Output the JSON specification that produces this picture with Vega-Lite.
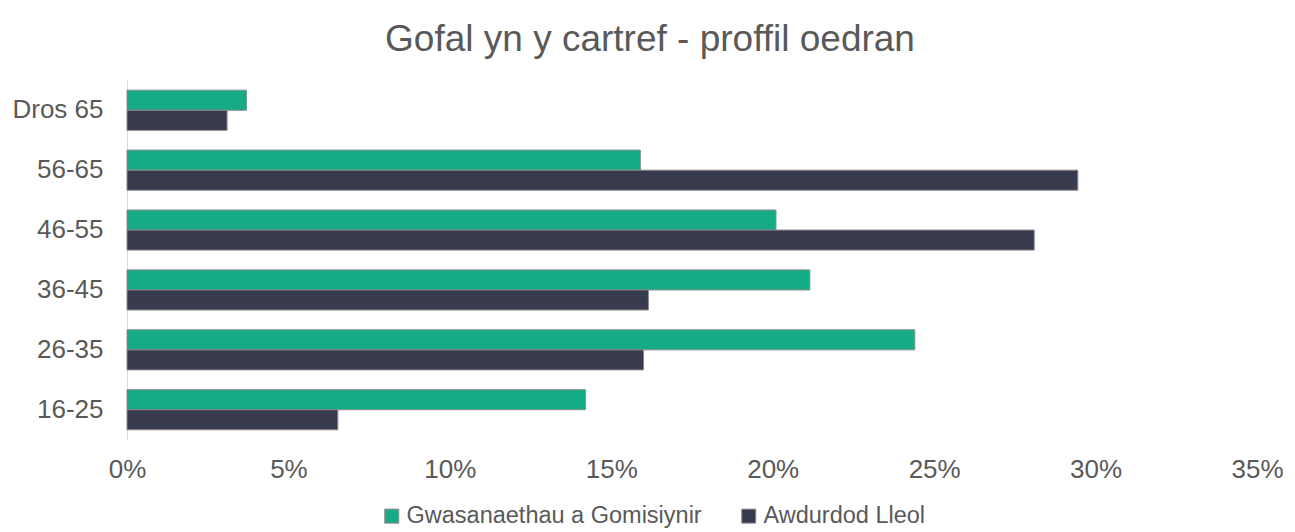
{
  "$schema": "https://vega.github.io/schema/vega-lite/v6.json",
  "width": 1130,
  "height": 360,
  "autosize": {"type": "none"},
  "padding": {"left": 127, "top": 80, "right": 38, "bottom": 92},
  "background": "white",
  "title": {
    "text": "Gofal yn y cartref - proffil oedran",
    "font": "Liberation Sans",
    "fontSize": 37,
    "fontWeight": "normal",
    "color": "#595959",
    "anchor": "middle",
    "dx": -42,
    "offset": 21
  },
  "data": {
    "values": [
      {"age": "Dros 65", "series": "Gwasanaethau a Gomisiynir", "value": 0.037},
      {"age": "Dros 65", "series": "Awdurdod Lleol", "value": 0.031},
      {"age": "56-65", "series": "Gwasanaethau a Gomisiynir", "value": 0.159},
      {"age": "56-65", "series": "Awdurdod Lleol", "value": 0.2945},
      {"age": "46-55", "series": "Gwasanaethau a Gomisiynir", "value": 0.201},
      {"age": "46-55", "series": "Awdurdod Lleol", "value": 0.281},
      {"age": "36-45", "series": "Gwasanaethau a Gomisiynir", "value": 0.2115},
      {"age": "36-45", "series": "Awdurdod Lleol", "value": 0.1615},
      {"age": "26-35", "series": "Gwasanaethau a Gomisiynir", "value": 0.244},
      {"age": "26-35", "series": "Awdurdod Lleol", "value": 0.16},
      {"age": "16-25", "series": "Gwasanaethau a Gomisiynir", "value": 0.142},
      {"age": "16-25", "series": "Awdurdod Lleol", "value": 0.0653}
    ]
  },
  "mark": {"type": "bar", "stroke": "#8a8a8a", "strokeWidth": 1},
  "encoding": {
    "y": {
      "field": "age",
      "type": "nominal",
      "sort": ["Dros 65", "56-65", "46-55", "36-45", "26-35", "16-25"],
      "scale": {"paddingInner": 0.33, "paddingOuter": 0.17},
      "axis": {
        "title": null,
        "ticks": false,
        "domainColor": "#d9d9d9",
        "domainWidth": 1,
        "labelFont": "Liberation Sans",
        "labelFontSize": 26,
        "labelColor": "#595959",
        "labelPadding": 24,
        "grid": false
      }
    },
    "yOffset": {
      "field": "series",
      "type": "nominal",
      "sort": ["Gwasanaethau a Gomisiynir", "Awdurdod Lleol"]
    },
    "x": {
      "field": "value",
      "type": "quantitative",
      "scale": {"domain": [0, 0.35], "nice": false},
      "axis": {
        "title": null,
        "format": ".0%",
        "values": [0, 0.05, 0.1, 0.15, 0.2, 0.25, 0.3, 0.35],
        "domain": false,
        "ticks": false,
        "grid": false,
        "labelFont": "Liberation Sans",
        "labelFontSize": 26,
        "labelColor": "#595959",
        "labelPadding": 16,
        "labelFlush": false
      }
    },
    "color": {
      "field": "series",
      "type": "nominal",
      "sort": ["Gwasanaethau a Gomisiynir", "Awdurdod Lleol"],
      "scale": {
        "domain": ["Gwasanaethau a Gomisiynir", "Awdurdod Lleol"],
        "range": ["#17AB85", "#383A4E"]
      },
      "legend": {
        "title": null,
        "orient": "none",
        "direction": "horizontal",
        "legendX": 253,
        "legendY": 424,
        "symbolType": "square",
        "symbolSize": 196,
        "symbolStrokeColor": "#8a8a8a",
        "symbolStrokeWidth": 1,
        "labelFont": "Liberation Sans",
        "labelFontSize": 23.5,
        "labelColor": "#595959",
        "labelOffset": 3,
        "labelLimit": 0,
        "columnPadding": 35
      }
    }
  },
  "config": {"view": {"stroke": null}}
}
